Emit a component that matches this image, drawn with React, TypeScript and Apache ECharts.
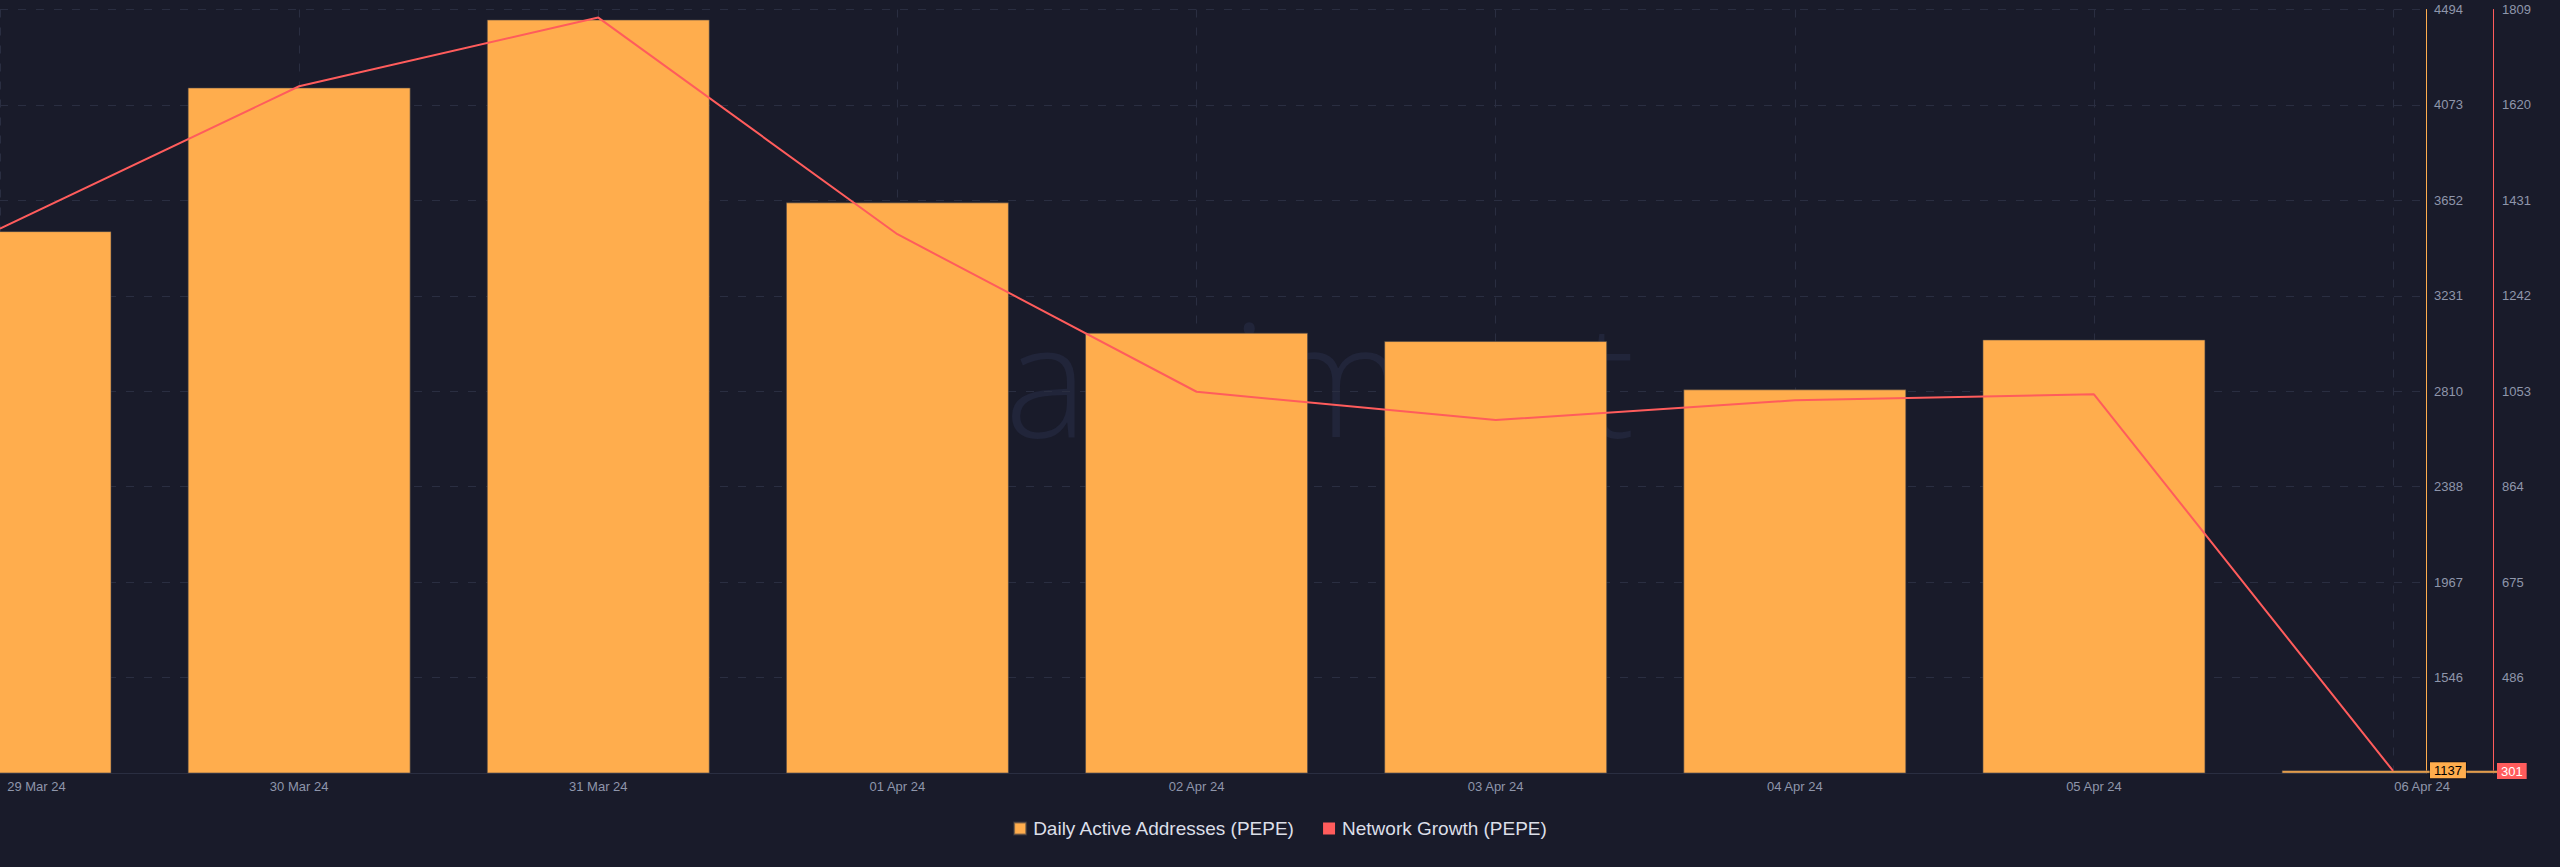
import React, { useEffect, useRef } from 'react';
import * as echarts from 'echarts';

const dates = ['29 Mar 24', '30 Mar 24', '31 Mar 24', '01 Apr 24', '02 Apr 24', '03 Apr 24', '04 Apr 24', '05 Apr 24', '06 Apr 24'];
const dailyActiveAddresses = [3516, 4150, 4450, 3643, 3068, 3031, 2818, 3038, 1137];
const networkGrowth = [1375, 1657, 1793, 1364, 1052, 996, 1035, 1047, 301];
const addressesAxis = [1125, 4494]; // min, max (8 equal steps)
const growthAxis = [297, 1809]; // min, max (8 equal steps)

const BG = '#191b2a';
const ORANGE = '#ffad4d';
const RED = '#ff5c5c';
const LABEL = '#8f96ab';
const GRID_LINE = '#2a2e41';
const FONT = '"Liberation Sans", Arial, sans-serif';

export default function App() {
  const ref = useRef<HTMLDivElement>(null);

  useEffect(() => {
    document.body.style.margin = '0';
    document.body.style.background = BG;
    if (!ref.current) return;
    const chart = echarts.init(ref.current, undefined, { renderer: 'svg' });
    const last = dates.length - 1;
    const option: any = {
      animation: false,
      backgroundColor: BG,
      textStyle: { fontFamily: FONT },
      graphic: [
        {
          type: 'text',
          z: 0,
          silent: true,
          style: {
            text: 'santiment',
            x: 932,
            y: 376,
            textAlign: 'left',
            verticalAlign: 'middle',
            font: '300 156px "Open Sans", sans-serif',
            fill: '#21253a',
          },
        },
      ],
      grid: { left: 0, right: 134, top: 9.5, bottom: 94, containLabel: false },
      legend: {
        bottom: 24,
        left: 'center',
        icon: 'rect',
        itemWidth: 12,
        itemHeight: 12,
        itemGap: 27,
        textStyle: { color: '#dcdfe8', fontSize: 19, fontFamily: FONT, padding: [0, 0, 0, 2] },
        data: ['Daily Active Addresses (PEPE)', 'Network Growth (PEPE)'],
      },
      xAxis: {
        type: 'value',
        min: 0,
        max: 8.11,
        interval: 1,
        axisLine: { show: true, onZero: false, lineStyle: { color: GRID_LINE, width: 1 } },
        axisTick: { show: false },
        splitLine: { show: true, lineStyle: { color: GRID_LINE, type: [8, 10], width: 1 } },
        axisLabel: {
          color: LABEL,
          fontSize: 13,
          fontFamily: FONT,
          margin: 7,
          formatter: (v: number) => {
            if (Math.abs(v - Math.round(v)) > 1e-6) return '';
            const i = Math.round(v);
            if (i < 0 || i > last) return '';
            if (i === 0) return `{first|${dates[i]}}`;
            if (i === last) return `{last|${dates[i]}}`;
            return dates[i];
          },
          rich: {
            first: { padding: [0, 0, 0, 73], color: LABEL, fontSize: 13, fontFamily: FONT },
            last: { padding: [0, 0, 0, 58], color: LABEL, fontSize: 13, fontFamily: FONT },
          },
        },
      },
      yAxis: [
        {
          type: 'value',
          position: 'right',
          min: addressesAxis[0],
          max: addressesAxis[1],
          interval: (addressesAxis[1] - addressesAxis[0]) / 8,
          axisLine: { show: true, onZero: false, lineStyle: { color: ORANGE, width: 1 } },
          axisTick: { show: false },
          splitLine: { show: true, lineStyle: { color: GRID_LINE, type: [8, 10], width: 1 } },
          axisLabel: {
            color: LABEL,
            fontSize: 13,
            fontFamily: FONT,
            margin: 8,
            showMinLabel: false,
            formatter: (v: number) => String(Math.round(v)),
          },
          axisPointer: {
            show: true,
            type: 'line',
            status: 'show',
            value: dailyActiveAddresses[last],
            snap: false,
            triggerTooltip: false,
            lineStyle: { opacity: 0 },
            label: {
              show: true,
              margin: 4,
              formatter: () => String(dailyActiveAddresses[last]),
              backgroundColor: ORANGE,
              color: '#000',
              fontSize: 13,
              fontFamily: FONT,
              padding: [2, 4, 1, 4],
              borderRadius: 0,
              borderColor: 'rgba(0,0,0,0.35)',
              borderWidth: 1,
            },
          },
        },
        {
          type: 'value',
          position: 'right',
          offset: 67,
          min: growthAxis[0],
          max: growthAxis[1],
          interval: (growthAxis[1] - growthAxis[0]) / 8,
          axisLine: { show: true, onZero: false, lineStyle: { color: RED, width: 1 } },
          axisTick: { show: false },
          splitLine: { show: false },
          axisLabel: {
            color: LABEL,
            fontSize: 13,
            fontFamily: FONT,
            margin: 9,
            showMinLabel: false,
            formatter: (v: number) => String(Math.round(v)),
          },
          axisPointer: {
            show: true,
            type: 'line',
            status: 'show',
            value: networkGrowth[last],
            snap: false,
            triggerTooltip: false,
            lineStyle: { opacity: 0 },
            label: {
              show: true,
              margin: 4,
              formatter: () => String(networkGrowth[last]),
              backgroundColor: RED,
              color: '#fff',
              fontSize: 13,
              fontFamily: FONT,
              padding: [2, 4, 1, 4],
              borderRadius: 0,
            },
          },
        },
      ],
      series: [
        {
          name: 'Daily Active Addresses (PEPE)',
          type: 'bar',
          xAxisIndex: 0,
          yAxisIndex: 0,
          barWidth: 223,
          z: 2,
          itemStyle: { color: ORANGE, borderColor: 'rgba(70,66,70,0.6)', borderWidth: 1 },
          emphasis: { disabled: true },
          data: dates.map((_, i) => [i, dailyActiveAddresses[i]]),
        },
        {
          name: 'Network Growth (PEPE)',
          type: 'line',
          xAxisIndex: 0,
          yAxisIndex: 1,
          z: 3,
          showSymbol: false,
          symbol: 'none',
          lineStyle: { color: RED, width: 2 },
          itemStyle: { color: RED },
          emphasis: { disabled: true },
          data: dates.map((_, i) => [i, networkGrowth[i]]),
        },
      ],
    };
    chart.setOption(option);
    return () => chart.dispose();
  }, []);

  return <div ref={ref} style={{ width: 2560, height: 867 }} />;
}
